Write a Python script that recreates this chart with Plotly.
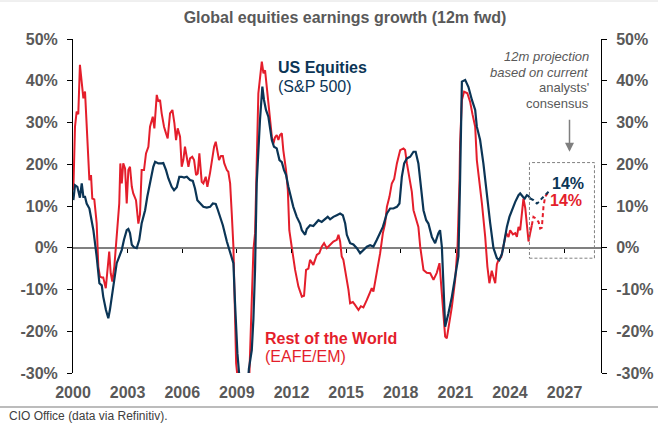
import plotly.graph_objects as go

# ---------------- data ----------------
title_text = "Global equities earnings growth (12m fwd)"
x_tick_years = [2000, 2003, 2006, 2009, 2012, 2015, 2018, 2021, 2024, 2027]
y_tick_values = [-30, -20, -10, 0, 10, 20, 30, 40, 50]

row_x = [2000.02, 2000.11, 2000.20, 2000.29, 2000.38, 2000.48, 2000.57, 2000.66, 2000.75, 2000.84,
         2000.90, 2000.99, 2001.06, 2001.17, 2001.30, 2001.39, 2001.48, 2001.58, 2001.66, 2001.80,
         2001.88, 2001.99, 2002.07, 2002.16, 2002.27, 2002.40, 2002.54, 2002.60, 2002.68, 2002.76,
         2002.86, 2002.95, 2003.04, 2003.13, 2003.23, 2003.31, 2003.46, 2003.59, 2003.68, 2003.77,
         2003.90, 2004.01, 2004.14, 2004.23, 2004.38, 2004.47, 2004.60, 2004.69, 2004.78, 2004.87,
         2005.00, 2005.11, 2005.20, 2005.33, 2005.46, 2005.57, 2005.66, 2005.75, 2005.88, 2005.97,
         2006.06, 2006.15, 2006.25, 2006.34, 2006.43, 2006.55, 2006.65, 2006.76, 2006.85, 2006.94,
         2007.07, 2007.16, 2007.29, 2007.38, 2007.53, 2007.62, 2007.75, 2007.84, 2007.93, 2008.02,
         2008.13, 2008.23, 2008.31, 2008.45, 2008.53, 2008.63, 2008.72, 2008.81, 2008.96, 2009.05,
         2009.30, 2009.55, 2009.69, 2009.80, 2009.91, 2010.00, 2010.18, 2010.37, 2010.46, 2010.55,
         2010.64, 2010.73, 2010.82, 2010.92, 2011.01, 2011.10, 2011.19, 2011.28, 2011.37, 2011.47,
         2011.55, 2011.70, 2011.80, 2011.88, 2012.02, 2012.20, 2012.38, 2012.57, 2012.69, 2012.80,
         2012.93, 2013.02, 2013.20, 2013.39, 2013.53, 2013.66, 2013.79, 2013.94, 2014.03, 2014.12,
         2014.30, 2014.49, 2014.58, 2014.67, 2014.76, 2014.85, 2015.00, 2015.13, 2015.22, 2015.37,
         2015.49, 2015.68, 2015.81, 2015.95, 2016.14, 2016.32, 2016.41, 2016.50, 2016.65, 2016.77,
         2016.87, 2017.02, 2017.14, 2017.24, 2017.38, 2017.51, 2017.64, 2017.79, 2017.97, 2018.15,
         2018.24, 2018.34, 2018.48, 2018.61, 2018.70, 2018.88, 2018.97, 2019.07, 2019.25, 2019.43,
         2019.62, 2019.80, 2019.98, 2020.13, 2020.26, 2020.35, 2020.44, 2020.53, 2020.62, 2020.81,
         2020.99, 2021.12, 2021.23, 2021.26, 2021.36, 2021.48, 2021.66, 2021.81, 2021.94, 2022.09,
         2022.18, 2022.27, 2022.46, 2022.64, 2022.76, 2022.87, 2023.00, 2023.09, 2023.19, 2023.28,
         2023.37, 2023.52, 2023.64, 2023.79, 2023.92, 2024.01, 2024.16, 2024.29, 2024.38, 2024.47,
         2024.56, 2024.65, 2024.74, 2024.84, 2024.93, 2025.02, 2025.11, 2025.20]
row_y = [13.8, 29.0, 32.6, 32.0, 43.8, 38.6, 35.8, 37.4, 29.0, 21.8,
         16.2, 17.4, 11.8, 11.6, 5.9, -4.5, -6.9, -7.1, -7.1, -9.7,
         -5.7, -0.9, -6.1, -8.1, -4.5, 2.6, 10.6, 20.2, 15.4, 20.2,
         19.0, 10.6, 18.6, 19.4, 14.6, 13.0, 11.4, 5.8, 8.0, 18.6,
         18.6, 22.6, 24.2, 29.0, 31.4, 28.6, 36.6, 35.0, 35.4, 32.2,
         29.0, 27.4, 26.2, 32.2, 33.0, 29.8, 25.8, 28.6, 26.6, 19.4,
         21.0, 24.2, 21.8, 19.4, 21.4, 21.8, 21.0, 17.4, 17.8, 22.6,
         15.8, 15.4, 17.0, 14.6, 18.0, 21.0, 24.2, 25.4, 23.0, 21.0,
         22.0, 22.0, 20.2, 18.6, 18.2, 15.4, 8.2, 0.3, -27.7, -32.0,
         -42.0, -38.0, -30.0, -15.0, -0.5, 3.5, 37.0, 44.6, 41.8, 42.5,
         38.6, 35.4, 31.4, 26.6, 25.0, 26.5, 27.0, 25.8, 27.0, 27.4,
         23.4, 18.6, 13.8, 4.2, 0.0, -5.3, -9.3, -11.7, -11.5, -5.3,
         -5.0, -2.9, -4.1, -1.7, -1.3, 0.25, 1.1, -0.1, 0.3, 0.7,
         1.5, 1.9, 3.1, 1.5, -2.1, -2.9, -6.5, -10.1, -13.3, -13.0,
         -13.7, -14.9, -14.0, -14.3, -12.5, -10.9, -9.7, -10.5, -6.9, -4.5,
         -1.3, 3.5, 5.8, 9.8, 12.2, 15.4, 16.5, 20.2, 23.4, 23.8,
         23.4, 20.2, 16.2, 13.4, 9.0, 6.6, 5.0, 0.25, -5.3, -6.0,
         -6.1, -7.7, -6.0, -3.7, -10.9, -17.3, -21.3, -21.7, -19.3, -14.1,
         -7.7, 0.25, 16.2, 25.0, 35.4, 37.4, 37.0, 35.0, 32.0, 29.0,
         21.0, 17.8, 10.6, 2.6, -4.5, -8.5, -5.5, -7.0, -8.5, -4.0,
         -2.9, -2.2, 0.25, 3.5, 2.6, 4.2, 3.2, 3.5, 2.6, 5.0,
         4.2, 7.8, 11.8, 9.5, 4.6, 1.5, 3.5, 5.4]

us_x = [2000.02, 2000.11, 2000.24, 2000.33, 2000.38, 2000.48, 2000.57, 2000.66, 2000.75, 2000.90,
        2000.98, 2001.03, 2001.12, 2001.30, 2001.45, 2001.58, 2001.66, 2001.81, 2001.94, 2002.03,
        2002.16, 2002.27, 2002.40, 2002.54, 2002.68, 2002.80, 2002.95, 2003.04, 2003.13, 2003.23,
        2003.35, 2003.50, 2003.64, 2003.77, 2003.96, 2004.08, 2004.19, 2004.32, 2004.41, 2004.51,
        2004.69, 2004.87, 2004.96, 2005.11, 2005.24, 2005.42, 2005.55, 2005.70, 2005.84, 2005.97,
        2006.10, 2006.25, 2006.43, 2006.58, 2006.70, 2006.83, 2006.98, 2007.16, 2007.35, 2007.53,
        2007.68, 2007.84, 2007.93, 2008.08, 2008.23, 2008.45, 2008.63, 2008.81, 2008.90, 2009.03,
        2009.14, 2009.40, 2009.60, 2009.66, 2009.82, 2009.91, 2010.00, 2010.09, 2010.27, 2010.40,
        2010.49, 2010.60, 2010.73, 2010.82, 2010.92, 2011.04, 2011.19, 2011.34, 2011.47, 2011.59,
        2011.70, 2011.83, 2011.96, 2012.10, 2012.29, 2012.47, 2012.57, 2012.75, 2012.84, 2013.02,
        2013.20, 2013.39, 2013.48, 2013.66, 2013.85, 2013.99, 2014.12, 2014.30, 2014.49, 2014.67,
        2014.82, 2014.95, 2015.04, 2015.22, 2015.40, 2015.59, 2015.77, 2015.95, 2016.14, 2016.32,
        2016.50, 2016.69, 2016.87, 2017.02, 2017.24, 2017.42, 2017.60, 2017.79, 2017.93, 2018.06,
        2018.19, 2018.34, 2018.52, 2018.70, 2018.82, 2018.97, 2019.07, 2019.16, 2019.25, 2019.40,
        2019.52, 2019.71, 2019.89, 2020.07, 2020.16, 2020.26, 2020.35, 2020.44, 2020.62, 2020.81,
        2020.99, 2021.17, 2021.26, 2021.36, 2021.54, 2021.72, 2021.91, 2022.09, 2022.18, 2022.36,
        2022.54, 2022.73, 2022.91, 2023.09, 2023.28, 2023.41, 2023.56, 2023.64, 2023.83, 2023.97,
        2024.10, 2024.29, 2024.47, 2024.56, 2024.71, 2024.81, 2024.93, 2025.02, 2025.11]
us_y = [11.4, 15.0, 14.6, 13.0, 12.0, 15.4, 12.2, 12.2, 10.6, 9.4,
        7.5, 5.8, 4.2, -2.1, -8.5, -9.0, -11.7, -14.9, -16.9, -14.8,
        -10.9, -7.7, -3.7, -2.1, -0.5, 1.9, 4.2, 4.5, 3.5, 0.7,
        0.1, -0.1, 1.9, 5.8, 9.0, 12.2, 14.6, 17.0, 19.4, 20.6,
        20.2, 20.2, 20.3, 18.6, 16.6, 14.6, 13.8, 14.5, 17.0, 17.0,
        16.8, 17.0, 16.2, 16.0, 14.2, 11.4, 10.6, 9.8, 9.6, 9.8,
        10.6, 10.5, 9.4, 7.4, 5.4, 1.5, -1.3, -3.7, -13.3, -25.3,
        -31.0, -40.0, -33.0, -29.0, -24.5, -17.0, -5.0, 15.4, 30.6, 38.6,
        35.4, 33.0, 31.4, 29.0, 25.8, 24.2, 23.8, 21.0, 20.5, 18.6,
        17.5, 14.6, 12.2, 9.8, 7.4, 5.8, 4.2, 3.1, 4.5, 5.4,
        5.2, 6.2, 6.6, 6.2, 7.0, 7.4, 6.8, 7.4, 7.8, 8.2,
        7.8, 5.8, 3.1, 1.1, 0.8, -0.1, -1.3, -0.5, 0.25, 0.6,
        0.3, 1.9, 3.5, 5.0, 8.2, 9.4, 9.4, 9.8, 10.6, 17.0,
        20.2, 21.4, 21.8, 23.0, 23.0, 20.2, 16.2, 12.2, 9.0, 6.6,
        5.8, 2.6, 1.1, 3.5, 4.2, 0.25, -10.9, -18.9, -15.7, -11.7,
        -6.9, -2.1, 16.2, 39.8, 40.2, 38.5, 35.4, 33.0, 29.0, 25.8,
        20.2, 12.0, 6.0, 0.0, -2.5, -3.0, -1.5, 0.3, 5.0, 7.4,
        9.0, 11.0, 12.6, 13.0, 12.2, 11.8, 12.6, 12.4, 11.8]

# analysts' consensus projections (dashed)
us_proj_x = [2025.11, 2025.29, 2025.48, 2025.60, 2025.75, 2025.93, 2026.12]
us_proj_y = [11.8, 11.4, 10.6, 11.0, 11.8, 12.6, 13.4]
row_proj_x = [2025.20, 2025.29, 2025.42, 2025.57, 2025.66, 2025.75, 2025.84, 2025.93, 2026.12]
row_proj_y = [5.4, 7.4, 7.0, 6.2, 4.6, 4.8, 9.8, 12.2, 13.4]

proj_label = "14%"
proj_box = dict(x0=2025.07, x1=2028.64, y0=-2.5, y1=20.4)

# ---------------- style ----------------
NAVY = "#0b3556"
RED = "#e41e2b"
GREY = "#595959"
FONT = "Liberation Sans, Arial, sans-serif"

fig = go.Figure()
fig.add_trace(go.Scatter(x=row_x, y=row_y, mode="lines", line=dict(color=RED, width=2), hoverinfo="skip"))
fig.add_trace(go.Scatter(x=row_proj_x, y=row_proj_y, mode="lines",
                         line=dict(color=RED, width=2, dash="4px,3px"), hoverinfo="skip"))
fig.add_trace(go.Scatter(x=us_x, y=us_y, mode="lines", line=dict(color=NAVY, width=2.2), hoverinfo="skip"))
fig.add_trace(go.Scatter(x=us_proj_x, y=us_proj_y, mode="lines",
                         line=dict(color=NAVY, width=2, dash="4px,3px"), hoverinfo="skip"))
# dummy trace to activate secondary axes (right y-axis, ticks on the zero line)
fig.add_trace(go.Scatter(x=[None], y=[None], xaxis="x2", yaxis="y2", showlegend=False, hoverinfo="skip"))

tickfont = dict(family=FONT, size=16, color=GREY, weight="bold")
yticktext = [f"{v}%" for v in y_tick_values]

fig.update_layout(
    width=658, height=427, autosize=False,
    margin=dict(l=73, r=57, t=39, b=54, autoexpand=False),
    paper_bgcolor="white", plot_bgcolor="white",
    showlegend=False,
    font=dict(family=FONT, color=GREY),
    title=dict(text=title_text, x=345 / 658, xref="container", xanchor="center",
               y=1 - 17 / 427, yref="container", yanchor="middle", automargin=False,
               font=dict(family=FONT, size=16, color=GREY, weight="bold")),
    xaxis=dict(range=[2000, 2029], tickvals=x_tick_years, ticktext=[str(v) for v in x_tick_years],
               showgrid=False, zeroline=False, showline=False, ticks="", tickfont=tickfont,
               ticklabelstandoff=8, automargin=False),
    xaxis2=dict(range=[2000, 2029], overlaying="x", anchor="free", position=30 / 80,
                tickvals=x_tick_years[1:], ticks="outside", ticklen=4, tickwidth=1, tickcolor="#000000",
                showticklabels=False, showline=False, showgrid=False, zeroline=False, automargin=False),
    yaxis=dict(range=[-30, 50], tickvals=y_tick_values, ticktext=yticktext,
               showgrid=False, showline=True, linecolor="#000000", linewidth=1,
               ticks="outside", ticklen=5, tickcolor="#000000", tickwidth=1,
               zeroline=True, zerolinecolor="#808080", zerolinewidth=1.5,
               tickfont=tickfont, ticklabelstandoff=6, automargin=False),
    yaxis2=dict(range=[-30, 50], overlaying="y", side="right", anchor="x", tickvals=y_tick_values,
                ticktext=yticktext, showgrid=False, showline=True, linecolor="#000000", linewidth=1,
                ticks="outside", ticklen=5, tickcolor="#000000", tickwidth=1, zeroline=False,
                tickfont=tickfont, ticklabelstandoff=6, automargin=False),
)

# projection box
fig.add_shape(type="rect", xref="x", yref="y", **proj_box,
              line=dict(color="#808080", width=1, dash="3px,2px"), fillcolor="rgba(0,0,0,0)")
# separator line above the source and faint top border
fig.add_shape(type="line", xref="paper", yref="paper", x0=-73 / 528, x1=585 / 528,
              y0=-34 / 334, y1=-34 / 334, line=dict(color="#a6a6a6", width=1.5))
fig.add_shape(type="line", xref="paper", yref="paper", x0=-73 / 528, x1=585 / 528,
              y0=372 / 334, y1=372 / 334, line=dict(color="#e0e0e0", width=1))

ann = []
ann.append(dict(x=2011.15, y=43.2, text="<b>US Equities</b>", xanchor="left", yanchor="middle",
                font=dict(family=FONT, size=16, color=NAVY)))
ann.append(dict(x=2011.15, y=38.6, text="(S&P 500)", xanchor="left", yanchor="middle",
                font=dict(family=FONT, size=16, color=NAVY)))
ann.append(dict(x=2010.46, y=-21.7, text="<b>Rest of the World</b>", xanchor="left", yanchor="middle",
                font=dict(family=FONT, size=16, color=RED)))
ann.append(dict(x=2010.46, y=-26.1, text="(EAFE/EM)", xanchor="left", yanchor="middle",
                font=dict(family=FONT, size=16, color=RED)))
ann.append(dict(x=2026.21, y=15.3, text="<b>" + proj_label + "</b>", xanchor="left", yanchor="middle",
                font=dict(family=FONT, size=16, color=NAVY)))
ann.append(dict(x=2026.10, y=11.2, text="<b>" + proj_label + "</b>", xanchor="left", yanchor="middle",
                font=dict(family=FONT, size=16, color=RED)))
for txt, yy in [("<i>12m projection</i>", 45.7), ("<i>based on current</i>", 42.0),
                ("analysts'", 38.3), ("consensus", 34.6)]:
    ann.append(dict(x=2028.46, y=yy, text=txt, xanchor="right", yanchor="middle",
                    font=dict(family=FONT, size=13, color=GREY)))
for a in ann:
    a.update(xref="x", yref="y", showarrow=False)
# arrow
ann.append(dict(x=2027.27, y=23.0, ax=2027.27, ay=31.0, xref="x", yref="y", axref="x", ayref="y",
                text="", showarrow=True, arrowhead=2, arrowsize=1.2, arrowwidth=1.5, arrowcolor="#7f7f7f"))
# source
ann.append(dict(x=-66 / 528, y=-42.5 / 334, xref="paper", yref="paper", xanchor="left", yanchor="middle",
                text="CIO Office (data via Refinitiv).", showarrow=False,
                font=dict(family=FONT, size=12, color="#404040")))
fig.update_layout(annotations=ann)

fig.write_html("out.html", config={"displayModeBar": False, "responsive": False},
               post_script="document.body.style.margin='0';document.body.style.overflow='hidden';")
